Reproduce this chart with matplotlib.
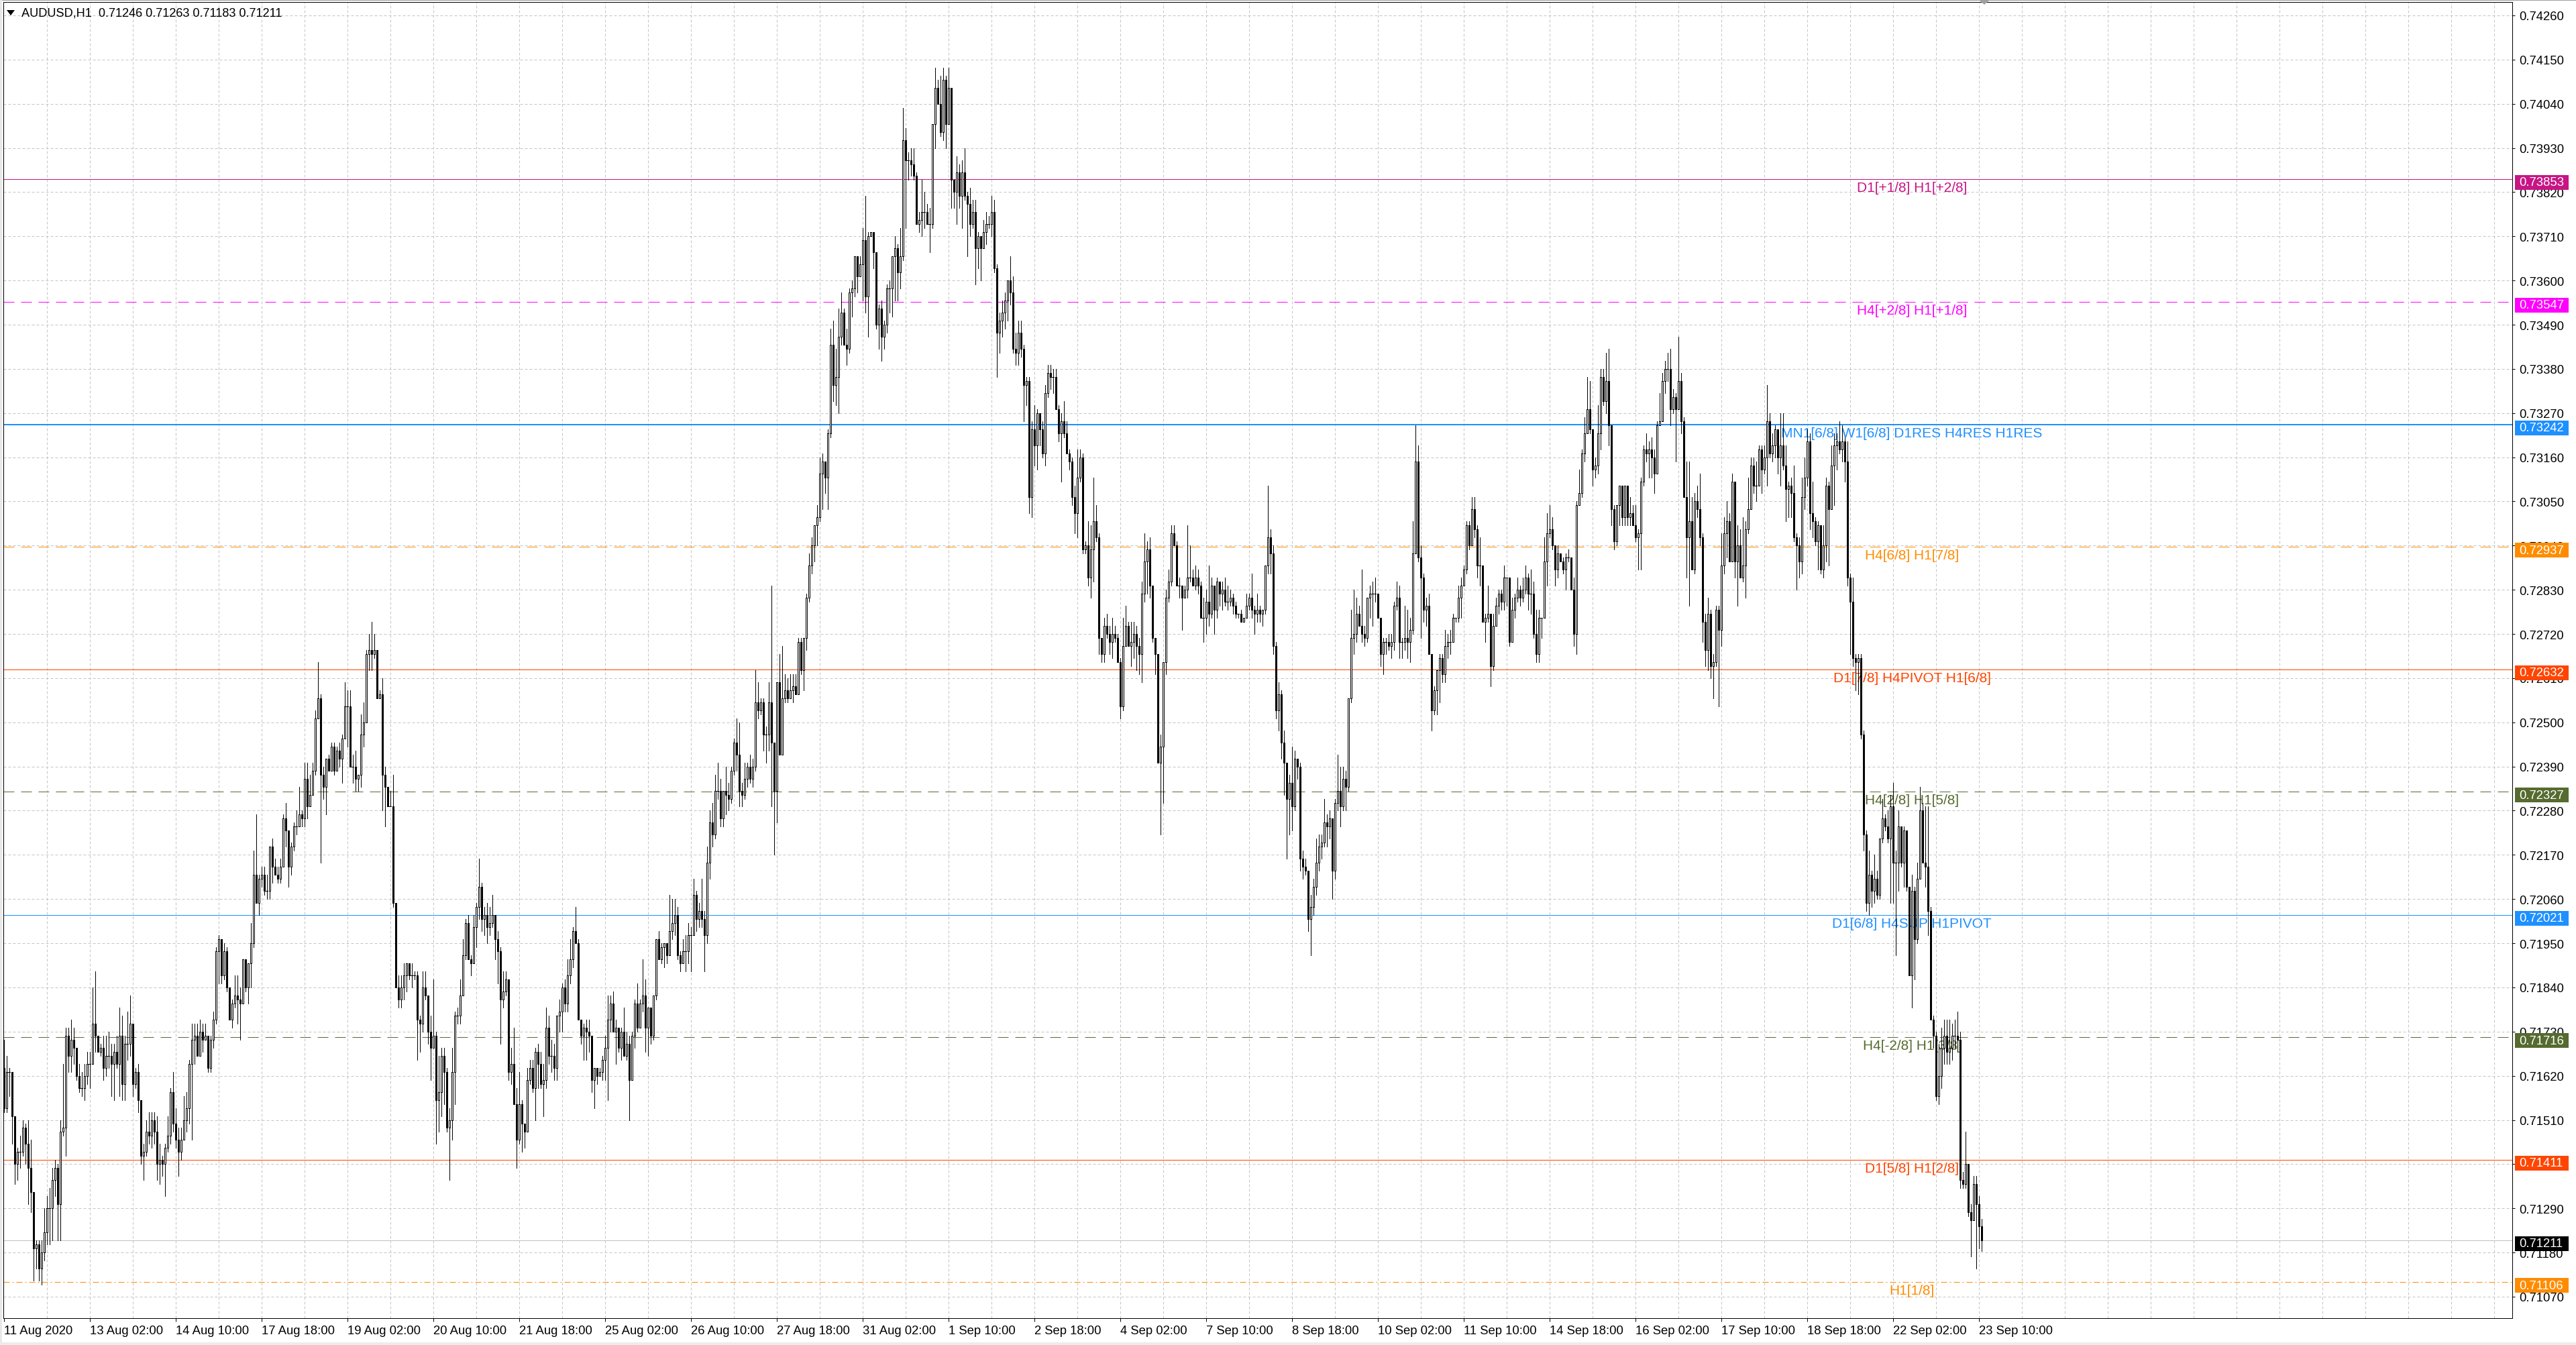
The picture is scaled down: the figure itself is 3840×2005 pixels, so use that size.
import numpy as np
import matplotlib
matplotlib.use("Agg")
import matplotlib.pyplot as plt
from matplotlib.collections import LineCollection, PolyCollection
from matplotlib.patches import Rectangle, Polygon
from matplotlib.transforms import IdentityTransform, offset_copy

plt.rcParams['font.family'] = ['Liberation Sans', 'DejaVu Sans']
plt.rcParams['lines.scale_dashes'] = False

# ---------------- data (prices in pips, 1 pip = 0.0001) ----------------
symbol_header = "AUDUSD,H1  0.71246 0.71263 0.71183 0.71211"
first_open_pips = 7164

close_pips = [
    7154,7163,7163,7152,7140,7143,7143,7149,7145,7139,
    7133,7119,7120,7114,7118,7123,7129,7129,7136,7139,
    7130,7148,7149,7172,7167,7171,7169,7162,7159,7159,
    7162,7165,7165,7175,7172,7168,7169,7164,7167,7167,
    7165,7168,7165,7172,7160,7170,7170,7175,7160,7163,
    7156,7142,7143,7148,7147,7151,7148,7140,7141,7140,
    7144,7147,7158,7150,7146,7143,7146,7151,7154,7165,
    7171,7172,7167,7173,7171,7172,7164,7171,7176,7193,
    7196,7187,7193,7184,7176,7180,7182,7181,7180,7191,
    7184,7190,7195,7212,7205,7211,7212,7208,7208,7219,
    7214,7212,7211,7214,7226,7223,7214,7219,7224,7224,
    7227,7226,7236,7229,7232,7238,7251,7256,7237,7234,
    7241,7238,7244,7238,7243,7241,7246,7254,7254,7239,
    7239,7236,7237,7247,7250,7267,7268,7267,7268,7256,
    7257,7237,7234,7229,7229,7205,7184,7181,7184,7187,
    7190,7187,7187,7187,
    7176,7175,7184,7182,7173,7169,
    7172,7156,7158,7167,7163,7149,7151,7163,7177,7177,
    7182,7192,7200,7191,7190,7199,7204,7209,7201,7202,
    7199,7200,7202,7196,7193,7181,7183,7186,7163,7165,
    7155,7146,7155,7150,7148,7161,7164,7159,7168,7165,
    7160,7161,7174,7167,7167,7164,7177,7178,7184,7180,
    7187,7191,7198,7195,7176,7172,7174,7173,7172,7161,
    7164,7162,7163,7166,7169,7176,7180,7173,7174,7169,
    7173,7167,7170,7161,7172,7180,7174,7180,7182,7174,
    7179,7172,7182,7196,7191,7194,7195,7192,7198,7200,
    7202,7192,7190,7193,7193,7197,7197,7207,7201,7203,
    7201,7197,7215,7225,7222,7233,7233,7226,7233,7232,
    7231,7238,7245,7242,7233,7232,7236,7239,7236,7239,
    7255,7253,7255,7247,7247,7255,7245,7233,7260,7242,
    7256,7258,7256,7258,7259,7257,7270,7263,7271,
    7281,
    7289,7294,7299,7301,7312,7315,7311,7322,7344,7334,
    7336,7346,7352,7344,7343,7357,7358,7366,7361,7364,
    7370,7356,7371,7372,7367,7349,7353,7346,7349,7358,
    7358,7366,7368,7362,7366,7395,7390,7390,7389,7386,
    7374,7375,7377,7377,7374,7374,7399,7408,7404,7397,
    7410,7399,7408,7385,7382,7387,7381,7387,7381,7379,
    7374,7377,7368,7371,7368,7372,7374,7374,7377,7363,
    7347,7350,7352,7355,7360,7357,7343,7342,7347,7343,
    7334,7335,7306,7323,7319,7327,7323,7317,7332,7337,
    7336,7336,7328,7322,7325,7322,7317,7315,7306,7302,
    7311,7316,7293,7294,7286,7293,7300,7296,7271,7267,
    7274,7272,7270,7272,7271,7265,7254,7269,7274,7269,
    7270,7272,7269,7267,7282,7290,7293,7284,7271,7267,
    7240,7244,7265,7281,7285,7297,7294,7284,7284,7281,
    7283,7286,7286,7284,7286,7284,7276,
    7276,7280,7277,
    7284,7278,7285,7282,7283,7280,7280,7281,7279,7277,
    7277,7275,7276,7279,7281,7278,7277,7278,7277,7278,
    7289,7296,7292,7269,7253,7257,7245,7240,7231,7235,
    7229,7241,7239,7216,7214,7213,7201,7204,7209,7215,
    7219,7220,7225,7224,7226,7213,7230,7233,7229,7236,
    7234,7256,7271,7272,7277,7274,7272,7271,7281,7282,
    7282,7282,7276,7267,7270,7270,7269,7270,7279,7281,
    7270,7270,7271,7270,7273,7292,7315,7291,7286,7278,
    7279,7267,7253,7258,7263,7266,7262,7269,7270,7270,
    7276,7276,7281,7284,7288,7299,7294,7303,7298,7289,
    7289,7275,7276,7277,7264,7274,7279,7282,7280,7286,
    7286,7270,7278,7281,7283,7281,7283,7286,7282,7282,
    7272,7267,7276,7276,7290,7297,7298,7294,7288,7292,
    7290,7288,7291,7291,7283,7272,7304,7307,7317,7322,
    7328,7323,7313,7314,
    7322,7336,7330,7335,7324,7303,
    7295,7304,7309,7301,7309,7301,7302,7299,7296,7297,
    7310,7318,7317,7318,7316,7312,7324,7325,7335,7338,
    7338,7328,7331,7328,7335,7325,7306,7296,7300,7288,
    7305,7303,7296,7275,7268,7277,7264,7265,7278,7273,
    7289,7297,7300,7290,7310,7290,7294,7286,7289,7298,
    7303,7314,7309,7309,7318,7313,7316,7325,7317,7319,
    7323,7316,7319,7314,7308,7309,7307,7296,7294,7290,
    7306,7311,7320,7302,7300,7295,7299,7288,7294,7309,
    7303,7314,7319,7320,7318,7320,7315,7286,7280,7266,
    7265,7266,7247,7222,7205,7212,7208,7211,7207,7221,
    7226,7224,7221,7229,7215,7215,7224,7215,7223,7209,
    7187,7208,7196,7211,7228,7215,7214,7203,7176,7172,
    7157,7162,7169,7172,7168,7169,7172,7172,7171,7136,
    7135,7140,7128,7126,7135,7130,7124.6,7121.1,
]

high_pips = [
    7171,7167,7164,7161,7152,7144,7147,7151,7150,7151,
    7146,7133,7121,7121,7121,7129,7132,7134,7139,7141,
    7140,7151,7165,7174,7174,7176,7174,7169,7165,7163,
    7165,7168,7168,7184,7188,7172,7170,7172,7172,7173,
    7170,7170,7172,7179,7177,7172,7178,7182,7175,7164,
    7165,7156,7145,7151,7153,7153,7153,7152,7145,7142,
    7145,7152,7159,7163,7154,7149,7149,7157,7158,7166,
    7175,7175,7175,7176,7175,7175,7172,7172,7178,7194,
    7197,7196,7195,7194,7184,7181,7187,7187,7184,7191,
    7190,7190,7200,7218,7227,7212,7214,7214,7212,7219,
    7221,7216,7214,7216,7227,7230,7223,7220,7225,7228,
    7234,7228,7240,7240,7237,7240,7253,7265,7257,7239,
    7241,7242,7245,7245,7244,7245,7247,7260,7258,7258,
    7242,7243,7237,7252,7255,7268,7272,7275,7272,7268,
    7258,7261,7239,7234,7233,7237,7205,7187,7187,7190,
    7190,7190,7190,7188,
    7188,7177,7188,7188,7182,7177,
    7186,7173,7167,7169,7169,7164,7154,7169,7178,7179,
    7186,7196,7201,7202,7192,7202,7205,7216,7210,7204,
    7205,7204,7207,7202,7198,7194,7188,7188,7184,7169,
    7174,7159,7163,7156,7150,7164,7166,7166,7169,7170,
    7168,7165,7179,7177,7171,7170,7177,7181,7185,7186,
    7191,7196,7199,7204,7196,7176,7175,7176,7176,7169,
    7164,7164,7164,7167,7172,7182,7182,7183,7176,7173,
    7174,7179,7173,7172,7173,7181,7185,7181,7191,7186,
    7179,7179,7182,7196,7198,7195,7195,7193,7207,7206,
    7206,7204,7193,7196,7197,7200,7199,7211,7208,7205,
    7211,7203,7219,7228,7230,7237,7240,7236,7233,7239,
    7235,7239,7246,7251,7250,7235,7240,7240,7242,7241,
    7263,7260,7256,7256,7249,7260,7284,7245,7260,7267,
    7269,7262,7261,7262,7262,7262,7271,7271,7271,
    7282,
    7292,7296,7299,7304,7316,7317,7315,7323,7348,7350,
    7343,7353,7357,7353,7348,7358,7360,7366,7364,7366,
    7373,7381,7372,7372,7372,7367,7354,7355,7350,7359,
    7360,7366,7371,7369,7373,7403,7398,7392,7393,7393,
    7387,7377,7385,7382,7379,7378,7399,7413,7410,7411,
    7413,7411,7413,7408,7385,7391,7389,7390,7393,7382,
    7383,7380,7380,7372,7371,7375,7377,7376,7381,7380,
    7364,7352,7355,7357,7360,7366,7361,7347,7350,7350,
    7344,7336,7336,7325,7329,7328,7326,7325,7334,7339,
    7339,7338,7338,7329,7327,7330,7325,7318,7316,7309,
    7318,7318,7317,7295,7300,7299,7311,7304,7297,7271,
    7276,7277,7274,7276,7274,7272,7266,7276,7279,7275,
    7275,7275,7274,7271,7285,7297,7295,7296,7284,7271,
    7267,7247,7265,7283,7288,7299,7299,7295,7286,7284,
    7284,7299,7294,7288,7289,7288,7285,
    7281,7283,7289,
    7286,7284,7286,7285,7285,7286,7284,7283,7282,7280,
    7277,7278,7276,7282,7282,7287,7279,7282,7279,7278,
    7289,7309,7298,7294,7270,7260,7258,7248,7240,7237,
    7244,7243,7241,7240,7218,7216,7213,7207,7211,7221,
    7222,7222,7231,7227,7228,7226,7231,7242,7239,7239,
    7238,7256,7278,7283,7281,7279,7288,7274,7281,7284,
    7285,7286,7282,7276,7271,7271,7272,7272,7280,7285,
    7284,7271,7279,7278,7276,7300,7324,7319,7294,7287,
    7281,7282,7267,7259,7263,7267,7267,7273,7272,7273,
    7277,7276,7284,7286,7289,7300,7300,7306,7306,7299,
    7296,7289,7277,7284,7276,7277,7281,7283,7283,7289,
    7286,7286,7281,7282,7286,7284,7286,7289,7287,7288,
    7285,7278,7278,7276,7296,7302,7304,7301,7294,7294,
    7292,7291,7292,7293,7291,7286,7305,7313,7318,7326,
    7336,7335,7323,7316,
    7329,7338,7338,7342,7343,7324,
    7304,7304,7309,7309,7309,7304,7306,7304,7304,7298,
    7311,7319,7322,7320,7321,7318,7325,7332,7337,7340,
    7342,7343,7333,7332,7346,7337,7326,7315,7315,7306,
    7307,7309,7312,7297,7277,7281,7278,7267,7279,7279,
    7297,7301,7305,7302,7312,7310,7299,7298,7301,7300,
    7311,7316,7316,7315,7319,7319,7319,7334,7327,7322,
    7324,7323,7327,7327,7319,7310,7311,7314,7297,7296,
    7311,7316,7323,7322,7310,7301,7300,7296,7299,7311,
    7310,7319,7322,7322,7325,7324,7321,7320,7287,7286,
    7267,7267,7267,7248,7223,7218,7213,7217,7213,7221,
    7231,7227,7228,7232,7235,7218,7228,7224,7224,7221,
    7209,7212,7209,7215,7234,7230,7229,7229,7204,7177,
    7173,7170,7174,7176,7176,7176,7175,7176,7178,7173,
    7138,7148,7140,7130,7137,7137,7132,7126.3,
]

low_pips = [
    7153,7153,7157,7145,7135,7136,7139,7142,7140,7130,
    7128,7111,7114,7111,7110,7116,7120,7120,7121,7132,
    7121,7121,7147,7142,7163,7163,7165,7161,7158,7157,
    7156,7160,7159,7165,7168,7168,7167,7161,7162,7164,
    7157,7156,7164,7157,7156,7156,7166,7167,7157,7159,
    7153,7140,7136,7142,7145,7144,7145,7136,7135,7137,
    7132,7143,7145,7148,7144,7137,7141,7146,7148,7150,
    7146,7165,7167,7167,7168,7171,7163,7163,7169,7175,
    7185,7185,7186,7183,7176,7174,7179,7175,7171,7180,
    7183,7180,7184,7194,7205,7202,7209,7207,7206,7206,
    7210,7212,7210,7210,7214,7219,7209,7212,7218,7222,
    7224,7224,7224,7226,7231,7232,7237,7251,7215,7231,
    7227,7238,7238,7237,7238,7239,7235,7246,7244,7239,
    7235,7233,7233,7234,7244,7250,7263,7263,7266,7256,
    7256,7228,7224,7229,7229,7204,7184,7179,7179,7181,
    7183,7186,7184,7186,
    7166,7168,7173,7181,7170,7161,
    7169,7145,7148,7152,7155,7148,7136,7146,7155,7175,
    7175,7182,7191,7191,7187,7190,7194,7201,7198,7197,
    7195,7197,7199,7191,7185,7170,7179,7182,7161,7160,
    7155,7139,7145,7143,7144,7149,7160,7158,7151,7159,
    7159,7152,7159,7165,7163,7161,7161,7173,7173,7178,
    7178,7185,7189,7195,7176,7170,7166,7166,7168,7158,
    7154,7160,7162,7161,7161,7156,7173,7173,7165,7168,
    7166,7167,7166,7151,7161,7169,7173,7174,7178,7168,
    7167,7170,7171,7181,7191,7190,7189,7190,7192,7196,
    7197,7191,7188,7190,7188,7190,7188,7197,7198,7199,
    7199,7188,7195,7211,7219,7221,7231,7224,7224,7227,
    7228,7230,7237,7238,7229,7229,7231,7234,7235,7234,
    7238,7251,7252,7243,7240,7243,7229,7217,7225,7242,
    7242,7255,7255,7256,7255,7257,7257,7262,7258,
    7268,
    7280,7287,7290,7294,7300,7303,7307,7303,7321,7330,
    7329,7327,7344,7344,7339,7342,7351,7356,7357,7362,
    7355,7352,7346,7371,7363,7348,7343,7340,7343,7347,
    7352,7351,7355,7355,7358,7365,7373,7385,7386,7385,
    7374,7372,7371,7373,7374,7367,7373,7393,7404,7396,
    7395,7393,7399,7378,7378,7374,7378,7373,7380,7366,
    7371,7373,7359,7363,7360,7371,7369,7373,7371,7362,
    7336,7342,7346,7348,7350,7354,7342,7339,7339,7341,
    7325,7329,7302,7301,7314,7313,7319,7316,7314,7331,
    7333,7332,7328,7320,7310,7321,7317,7313,7304,7297,
    7296,7310,7292,7292,7284,7281,7285,7295,7267,7265,
    7265,7271,7267,7266,7270,7265,7251,7253,7269,7269,
    7264,7266,7263,7262,7260,7280,7282,7281,7270,7262,
    7240,7222,7230,7262,7280,7284,7294,7284,7281,7273,
    7281,7281,7285,7284,7283,7282,7276,
    7270,7272,7274,
    7276,7272,7276,7279,7278,7279,7278,7279,7277,7276,
    7276,7275,7275,7276,7278,7276,7272,7275,7275,7274,
    7277,7287,7287,7267,7251,7248,7241,7232,7216,7222,
    7223,7228,7236,7213,7211,7212,7198,7192,7202,7207,
    7213,7216,7219,7219,7221,7206,7211,7228,7224,7228,
    7228,7233,7255,7267,7270,7274,7270,7269,7270,7276,
    7274,7280,7276,7264,7262,7267,7268,7266,7268,7278,
    7266,7266,7268,7266,7265,7272,7292,7290,7271,7275,
    7274,7267,7248,7252,7252,7255,7260,7260,7266,7267,
    7270,7275,7275,7276,7284,7287,7293,7294,7296,7286,
    7284,7275,7270,7275,7259,7263,7274,7277,7278,7278,
    7279,7269,7270,7276,7280,7279,7280,7282,7278,7277,
    7271,7265,7265,7271,7276,7284,7296,7293,7284,7286,
    7290,7287,7283,7290,7283,7269,7267,7304,7306,7315,
    7322,7322,7309,7311,
    7312,7318,7329,7327,7319,7299,
    7293,7294,7299,7299,7299,7299,7299,7299,7295,7288,
    7288,7309,7315,7311,7311,7307,7312,7324,7325,7332,
    7335,7324,7327,7315,7330,7322,7306,7286,7279,7288,
    7287,7301,7294,7270,7264,7263,7261,7256,7264,7254,
    7269,7287,7291,7290,7290,7286,7279,7286,7285,7281,
    7297,7303,7307,7305,7309,7307,7312,7309,7316,7315,
    7316,7312,7309,7313,7300,7301,7301,7295,7283,7286,
    7287,7303,7309,7298,7296,7294,7288,7287,7286,7290,
    7289,7303,7304,7313,7317,7315,7310,7284,7267,7264,
    7258,7257,7246,7218,7203,7202,7204,7205,7206,7206,
    7220,7223,7220,7205,7205,7192,7208,7214,7209,7208,
    7187,7179,7186,7195,7211,7215,7209,7197,7176,7169,
    7156,7155,7159,7165,7165,7165,7166,7169,7168,7134,
    7134,7134,7127,7117,7126,7114,7119,7118.3,
]

date_labels = ["11 Aug 2020", "13 Aug 02:00", "14 Aug 10:00", "17 Aug 18:00",
               "19 Aug 02:00", "20 Aug 10:00", "21 Aug 18:00", "25 Aug 02:00",
               "26 Aug 10:00", "27 Aug 18:00", "31 Aug 02:00", "1 Sep 10:00",
               "2 Sep 18:00", "4 Sep 02:00", "7 Sep 10:00", "8 Sep 18:00",
               "10 Sep 02:00", "11 Sep 10:00", "14 Sep 18:00", "16 Sep 02:00",
               "17 Sep 10:00", "18 Sep 18:00", "22 Sep 02:00", "23 Sep 10:00"]
date_label_step = 32

price_ticks = [0.71070, 0.71180, 0.71290, 0.71400, 0.71510, 0.71620, 0.71730,
               0.71840, 0.71950, 0.72060, 0.72170, 0.72280, 0.72390, 0.72500,
               0.72610, 0.72720, 0.72830, 0.72940, 0.73050, 0.73160, 0.73270,
               0.73380, 0.73490, 0.73600, 0.73710, 0.73820, 0.73930, 0.74040,
               0.74150, 0.74260]

level_prices = [0.73853, 0.73547, 0.73242, 0.72937, 0.72632,
                0.72327, 0.72021, 0.71716, 0.71411, 0.71106]
level_texts = ["D1[+1/8] H1[+2/8]", "H4[+2/8] H1[+1/8]",
               "MN1[6/8] W1[6/8] D1RES H4RES H1RES", "H4[6/8] H1[7/8]",
               "D1[7/8] H4PIVOT H1[6/8]", "H4[2/8] H1[5/8]",
               "D1[6/8] H4SUP H1PIVOT", "H4[-2/8] H1[3/8]",
               "D1[5/8] H1[2/8]", "H1[1/8]"]
level_colors = ["#C71585", "#FF00FF", "#1E90FF", "#FF8C00", "#FF4500",
                "#556B2F", "#1E90FF", "#556B2F", "#FF4500", "#FF8C00"]
level_styles = ["solid", "dash", "solid", "dash", "solid",
                "dash", "solid", "dash", "solid", "dashdot"]
level_widths_px = [1, 1, 2, 1, 1, 1, 1, 1, 1, 1]
last_price = 0.71211
label_bar = 711.05

# ---------------- figure geometry ----------------
W, H, DPI = 3840, 2006, 100
PT = 72.0 / DPI            # points per pixel
L_PX, R_PX, T_PX, B_PX = 5, 3745, 4, 1966
BAR_PX = 4.0
STEP_PX = 65.86            # pixels per 0.0011
ROW_7426 = 24.0
pp = 0.0011 / STEP_PX

fig = plt.figure(figsize=(W / DPI, H / DPI), dpi=DPI)
fig.patch.set_facecolor("white")
ax = fig.add_axes([L_PX / W, 1 - B_PX / H, (R_PX - L_PX) / W, (B_PX - T_PX) / H])
ax.set_facecolor("white")

x0 = -0.2
ax.set_xlim(x0, x0 + (R_PX - L_PX) / BAR_PX)
ax.set_ylim(0.7426 - (B_PX - ROW_7426) * pp, 0.7426 + (ROW_7426 - T_PX) * pp)

# ---------------- candles ----------------
n = min(len(close_pips), len(high_pips), len(low_pips))
c = np.array(close_pips[:n], float) / 1e4
hi = np.array(high_pips[:n], float) / 1e4
lo = np.array(low_pips[:n], float) / 1e4
o = np.concatenate([[first_open_pips / 1e4], c[:-1]])
hi = np.maximum(hi, np.maximum(o, c))
lo = np.minimum(lo, np.minimum(o, c))
xs = np.arange(n)

wicks = [[(i, lo[i]), (i, hi[i])] for i in range(n)]
ax.add_collection(LineCollection(wicks, colors="black", linewidths=1 * PT,
                                 antialiaseds=False, zorder=3))
hw = 0.25
bull_v, bear_v, doji = [], [], []
for i in range(n):
    a, b = min(o[i], c[i]), max(o[i], c[i])
    if abs(c[i] - o[i]) < 1e-7:
        doji.append([(i - 0.375, c[i]), (i + 0.375, c[i])])
        continue
    v = [(i - hw, a), (i + hw, a), (i + hw, b), (i - hw, b)]
    (bull_v if c[i] > o[i] else bear_v).append(v)
ax.add_collection(PolyCollection(bull_v, facecolors="white", edgecolors="black",
                                 linewidths=1 * PT, antialiaseds=False, zorder=4))
ax.add_collection(PolyCollection(bear_v, facecolors="black", edgecolors="black",
                                 linewidths=1 * PT, antialiaseds=False, zorder=4))
if doji:
    ax.add_collection(LineCollection(doji, colors="black", linewidths=1 * PT,
                                     antialiaseds=False, zorder=4))

# ---------------- grid ----------------
grid_ls = (0, (4 * PT, 3 * PT))
for t in price_ticks:
    ax.axhline(t, color="#C4C4C4", lw=1 * PT, ls=grid_ls, zorder=0.5)
for k in range(16, int(x0 + (R_PX - L_PX) / BAR_PX) + 1, 16):
    ax.axvline(k, color="#C4C4C4", lw=1 * PT, ls=grid_ls, zorder=0.5)

# ---------------- level lines & labels ----------------
style_map = {"solid": "-",
             "dash": (0, (16 * PT, 10 * PT)),
             "dashdot": (0, (9 * PT, 4 * PT, 2 * PT, 4 * PT))}
ax.axhline(last_price, color="#C0C0C0", lw=1 * PT, zorder=1.6)
text_tr = offset_copy(ax.transData, fig=fig, x=0, y=-3, units="dots")
for p, s, col, st, w in zip(level_prices, level_texts, level_colors, level_styles, level_widths_px):
    ax.axhline(p, color=col, lw=w * PT, ls=style_map[st], zorder=1.7)
    ax.text(label_bar, p, s, color=col, fontsize=15, ha="center", va="top",
            transform=text_tr, zorder=2)

# ---------------- axes styling ----------------
for sp in ax.spines.values():
    sp.set_color("black")
    sp.set_linewidth(1 * PT)
ax.yaxis.tick_right()
ax.set_yticks(price_ticks)
ax.set_yticklabels(["%.5f" % t for t in price_ticks])
ax.tick_params(axis="y", which="major", direction="out", length=4 * PT, width=1 * PT,
               pad=6 * PT, labelsize=13.3, right=True, left=False,
               labelright=True, labelleft=False, colors="black")
xt = [k * date_label_step for k in range(len(date_labels))]
ax.set_xticks(xt)
ax.set_xticklabels(date_labels, ha="left")
ax.tick_params(axis="x", which="major", direction="out", length=5 * PT, width=1 * PT,
               pad=5 * PT, labelsize=13.3, colors="black")

# ---------------- price boxes on the scale ----------------
fig.canvas.draw()
ident = IdentityTransform()
box_prices = level_prices + [last_price]
box_colors = level_colors + ["#000000"]
for p, col in zip(box_prices, box_colors):
    yd = ax.transData.transform((0, p))[1]
    fig.add_artist(Rectangle((R_PX + 4, yd - 16), 80, 22, transform=ident,
                             facecolor=col, edgecolor="none", zorder=10))
    fig.text(R_PX + 10, yd - 5, "%.5f" % p, transform=ident, color="white",
             fontsize=13.3, ha="left", va="center", zorder=11)

# ---------------- header / window decorations ----------------
fig.text(32, H - 20, symbol_header, transform=ident, color="black",
         fontsize=13.1, ha="left", va="center", zorder=11)
fig.add_artist(Polygon([(10, H - 16), (22, H - 16), (16, H - 24)], closed=True,
                       transform=ident, facecolor="black", edgecolor="none", zorder=11))
fig.add_artist(Rectangle((0, H - 2), W, 2, transform=ident, facecolor="#A0A0A0",
                         edgecolor="none", zorder=9))
fig.add_artist(Rectangle((0, 0), 3, H, transform=ident, facecolor="#E8E8E8",
                         edgecolor="none", zorder=9))
fig.add_artist(Rectangle((0, 0), W, 4, transform=ident, facecolor="#ECECEC",
                         edgecolor="none", zorder=9))
fig.add_artist(Polygon([(2950, H - 1), (2966, H - 1), (2958, H - 8)], closed=True,
                       transform=ident, facecolor="#A0A0A0", edgecolor="none", zorder=11))

fig.savefig("out.png", dpi=DPI, facecolor="white")
